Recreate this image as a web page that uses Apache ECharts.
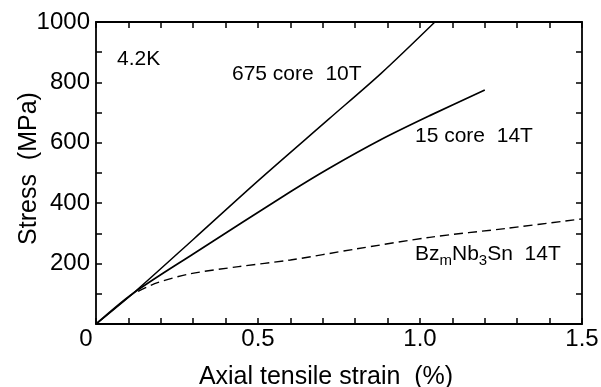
<!DOCTYPE html>
<html>
<head>
<meta charset="utf-8">
<script src="https://cdn.jsdelivr.net/npm/echarts@6/dist/echarts.min.js"></script>
<style>
  html, body { margin: 0; padding: 0; background: #fff; }
  #main { width: 601px; height: 387px; }
</style>
</head>
<body>
<div id="main"></div>
<script>
var dom = document.getElementById('main');
var myChart = echarts.init(dom, null, { renderer: 'canvas' });

var fontFamily = '"Liberation Sans", Arial, Helvetica, sans-serif';

// 675 core 10T
var strain675 = [0, 0.115, 0.3, 0.5, 0.72, 0.88, 1.046];
var stress675 = [0, 102, 280, 474, 680, 830, 1000];

// 15 core 14T
var strain15 = [0, 0.115, 0.3, 0.6, 0.72, 0.88, 1.03, 1.2];
var stress15 = [0, 102, 232, 438, 516, 611, 690, 775];

// Bz_m Nb3Sn 14T (dashed)
var strainBz = [0.13, 0.19, 0.29, 0.44, 0.6, 0.8, 1.03, 1.27, 1.5];
var stressBz = [108, 137, 166, 190, 212, 248, 287, 317, 348];

function pairs(xs, ys) {
  return xs.map(function (x, i) { return [x, ys[i]]; });
}

var axisLineStyle = { color: '#000', width: 1.8 };
var tickStyle = { show: true, inside: true, length: 6, lineStyle: { color: '#000', width: 1.5 } };

var option = {
  animation: false,
  backgroundColor: '#fff',
  grid: { left: 96, right: 19, top: 22, bottom: 63, outerBoundsMode: 'none' },
  xAxis: [
    {
      type: 'value',
      min: 0,
      max: 1.5,
      interval: 0.1,
      name: 'Axial tensile strain  (%)',
      nameLocation: 'middle',
      nameGap: 41,
      nameMoveOverlap: false,
      nameTextStyle: { fontFamily: fontFamily, fontSize: 25, color: '#000', padding: [0, 26, 0, 0] },
      axisLine: { onZero: false, lineStyle: axisLineStyle },
      axisTick: tickStyle,
      splitLine: { show: false },
      axisLabel: {
        fontFamily: fontFamily,
        fontSize: 24,
        color: '#000',
        margin: 3,
        formatter: function (v) {
          var r = Math.round(v * 10) / 10;
          if (Math.abs(r * 2 - Math.round(r * 2)) > 1e-6) return '';
          if (r === 0) return '0   ';
          return r.toFixed(1);
        }
      }
    },
    {
      type: 'value',
      position: 'top',
      min: 0,
      max: 1.5,
      interval: 0.1,
      axisLine: { show: true, onZero: false, lineStyle: axisLineStyle },
      axisTick: tickStyle,
      axisLabel: { show: false },
      splitLine: { show: false }
    }
  ],
  yAxis: [
    {
      type: 'value',
      min: 0,
      max: 1000,
      interval: 100,
      name: 'Stress  (MPa)',
      nameLocation: 'middle',
      nameGap: 54,
      nameRotate: 90,
      nameMoveOverlap: false,
      nameTextStyle: { fontFamily: fontFamily, fontSize: 25, color: '#000', padding: [0, 0, 0, 9] },
      axisLine: { show: true, onZero: false, lineStyle: axisLineStyle },
      axisTick: tickStyle,
      splitLine: { show: false },
      axisLabel: {
        fontFamily: fontFamily,
        fontSize: 24,
        color: '#000',
        margin: 6,
        formatter: function (v) {
          return (v > 0 && v % 200 === 0) ? String(v) : '';
        }
      }
    },
    {
      type: 'value',
      position: 'right',
      min: 0,
      max: 1000,
      interval: 100,
      axisLine: { show: true, onZero: false, lineStyle: axisLineStyle },
      axisTick: tickStyle,
      axisLabel: { show: false },
      splitLine: { show: false }
    }
  ],
  series: [
    {
      name: '675 core 10T',
      type: 'line',
      showSymbol: false,
      smooth: 0.3,
      lineStyle: { color: '#000', width: 1.5 },
      data: pairs(strain675, stress675)
    },
    {
      name: '15 core 14T',
      type: 'line',
      showSymbol: false,
      smooth: 0.3,
      lineStyle: { color: '#000', width: 1.7 },
      data: pairs(strain15, stress15)
    },
    {
      name: 'BzmNb3Sn 14T',
      type: 'line',
      showSymbol: false,
      smooth: 0.3,
      lineStyle: { color: '#000', width: 1.4, type: [9, 5] },
      data: pairs(strainBz, stressBz)
    }
  ],
  graphic: [
    {
      type: 'text', left: 117, top: 49,
      style: { text: '4.2K', fontFamily: fontFamily, fontSize: 21, fill: '#000' }
    },
    {
      type: 'text', left: 232, top: 64,
      style: { text: '675 core  10T', fontFamily: fontFamily, fontSize: 21, fill: '#000' }
    },
    {
      type: 'text', left: 415, top: 126,
      style: { text: '15 core  14T', fontFamily: fontFamily, fontSize: 21, fill: '#000' }
    },
    {
      type: 'text', left: 415, top: 244,
      style: {
        text: '{a|Bz}{s|m}{a|Nb}{s|3}{a|Sn  14T}',
        rich: {
          a: { fontFamily: fontFamily, fontSize: 21, fill: '#000', lineHeight: 27, verticalAlign: 'middle' },
          s: { fontFamily: fontFamily, fontSize: 15, fill: '#000', lineHeight: 15, verticalAlign: 'bottom' }
        }
      }
    }
  ]
};

myChart.setOption(option);

window.addEventListener('resize', myChart.resize);
</script>
</body>
</html>
